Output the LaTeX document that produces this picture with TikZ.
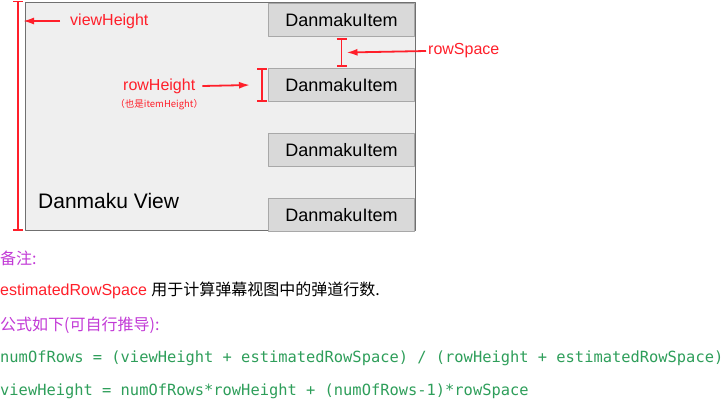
\documentclass[tikz,border=0pt]{standalone}
\usepackage{fontspec}
\setmainfont{Liberation Sans}
\setmonofont{DejaVu Sans Mono}
\newfontfamily\cjk{Noto Sans CJK SC}
\usetikzlibrary{arrows.meta,calc,positioning}

% -------------------------------------------------
% Palette
% -------------------------------------------------
\definecolor{markred}{HTML}{FF1F2A}     % marks and labels
\definecolor{viewgray}{HTML}{EFEFEF}    % danmaku view fill
\definecolor{viewline}{HTML}{707070}    % danmaku view border
\definecolor{itemgray}{HTML}{D9D9D9}    % item fill
\definecolor{itemline}{HTML}{A8A8A8}    % item border
\definecolor{notepurple}{HTML}{C23AD6}  % remark headings
\definecolor{codegreen}{HTML}{2E9E5A}   % formulas

\begin{document}
\begin{tikzpicture}[
    x=1pt, y=-1pt,
    line join=round,
    view/.style={draw=viewline, fill=viewgray, line width=1.2pt, inner sep=0pt,
        minimum width=390pt, minimum height=228pt},
    item/.style={draw=itemline, fill=itemgray, line width=1pt, inner sep=0pt,
        minimum width=146pt, minimum height=33pt,
        font=\fontsize{18}{21}\selectfont},
    label/.style={font=\fontsize{16}{19}\selectfont, text=markred, inner sep=0pt},
    small/.style={font=\cjk\fontsize{9.5}{11}\selectfont, text=markred, inner sep=0pt},
    note/.style={font=\fontsize{16}{19}\selectfont, inner sep=0pt},
    formula/.style={font=\ttfamily\fontsize{15.4}{18}\selectfont, text=codegreen,
        inner sep=0pt},
    arrow/.style={-{Latex[length=11pt,width=7pt]}, line width=1.8pt, markred},
    dimline/.style={{Bar[width=10pt]}-{Bar[width=10pt]}, line width=1.8pt, markred}
]
\useasboundingbox (0,0) rectangle (728,400);

% -------------------------------------------------
% Danmaku view and items
% -------------------------------------------------
\node[view, anchor=north west] (view) at (25,2) {};

\foreach \i/\yy in {1/3,2/68,3/133,4/198} {
    \node[item, anchor=north west] (item\i) at (268,\yy) {DanmakuItem};
}

\node[font=\fontsize{21}{24}\selectfont, anchor=west, inner sep=0pt]
    (viewname) at (38,201) {Danmaku View};

% -------------------------------------------------
% View height
% -------------------------------------------------
\coordinate (vtop) at (18,0.5);
\coordinate (vbot) at (18,230.5);
\draw[dimline] (vtop) -- (vbot);
\coordinate (vmark) at (23,21);

\node[label, anchor=west] (viewheight) at (70,21) {viewHeight};
\draw[arrow] ($(viewheight.west)+(-10,0)$) -- (vmark);

% -------------------------------------------------
% Row space
% -------------------------------------------------
\draw[dimline] ($(item1.south)+(0,1)$) -- coordinate[pos=0.5] (gapmid)
    ($(item2.north)+(0,-1)$);

\node[label, anchor=west] (rowspace) at (428,51) {rowSpace};
\draw[arrow] ($(rowspace.west)+(-2,0)$) -- ($(gapmid)+(5,0)$);

% -------------------------------------------------
% Row height
% -------------------------------------------------
\draw[dimline] ($(item2.north west)+(-6,0)$) -- ($(item2.south west)+(-6,0)$);

\node[label, anchor=west] (rowheight) at (123,86) {rowHeight};
\node[small, below=6pt of rowheight] (itemheight) {（也是itemHeight）};
\draw[arrow] ($(rowheight.east)+(7,0)$) -- ($(item2.west)+(-18,0)$);

% -------------------------------------------------
% Remarks
% -------------------------------------------------
\node[note, text=notepurple, anchor=west] (remark) at (0,258) {\cjk 备注:};
\node[note, text=markred, anchor=west] (estname) at (0,291) {estimatedRowSpace};
\node[note, anchor=base west] (estdesc) at ($(estname.base east)+(4,0)$)
    {\cjk 用于计算弹幕视图中的弹道行数.};
\node[note, text=notepurple, anchor=west] (formulahead) at (0,325)
    {\cjk 公式如下(可自行推导):};

\node[formula, anchor=west] (formula1) at (0,358)
    {numOfRows = (viewHeight + estimatedRowSpace) / (rowHeight + estimatedRowSpace)};
\node[formula, anchor=west] (formula2) at (0,391)
    {viewHeight = numOfRows*rowHeight + (numOfRows-1)*rowSpace};

\end{tikzpicture}
\end{document}
